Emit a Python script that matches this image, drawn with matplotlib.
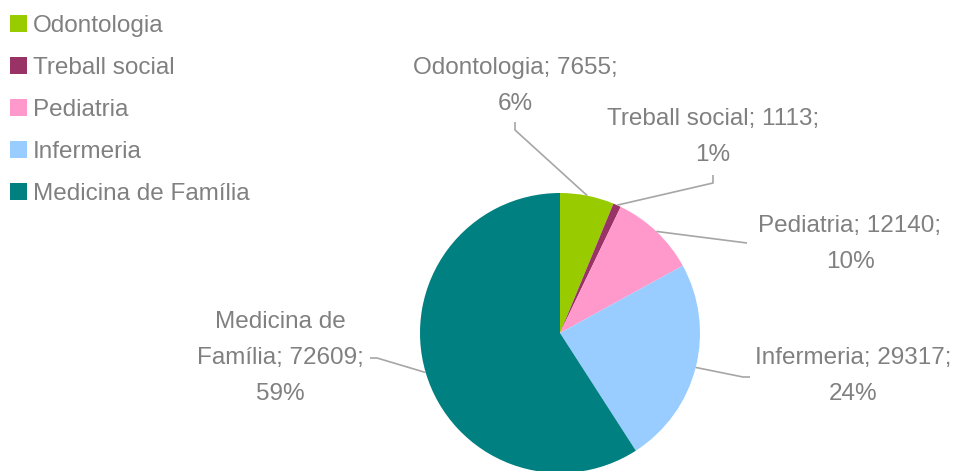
import numpy as np
import matplotlib.pyplot as plt

labels = ['Odontologia', 'Treball social', 'Pediatria', 'Infermeria', 'Medicina de Família']
values = [7655, 1113, 12140, 29317, 72609]
colors = ['#99cc00', '#993366', '#ff99cc', '#99ccff', '#008080']

plt.rcParams['font.family'] = ['Liberation Sans', 'DejaVu Sans']
W, H = 957, 471
fig = plt.figure(figsize=(W / 100, H / 100), dpi=100)
ax = fig.add_axes([0, 0, 1, 1])

cx, cy, r = 560, H - 333, 140
wedges, _ = ax.pie(values, colors=colors, startangle=90, counterclock=False,
                   center=(cx, cy), radius=r, wedgeprops=dict(linewidth=0))
ax.set_xlim(0, W)
ax.set_ylim(0, H)
ax.axis('off')

total = sum(values)
txt = '#808080'
fs = 17.5

# label text centre (px, from top), leader start, elbow
layout = {
    'Odontologia': ((515, 86), [(515, 122), (515, 130)]),
    'Treball social': ((713, 137), [(713, 175), (713, 183)]),
    'Pediatria': ((850, 244), [(747, 243)]),
    'Infermeria': ((853, 376), [(750, 377), (743, 377)]),
    'Medicina de Família': ((280, 358), [(370, 358), (377, 358)]),
}

for w, name, v in zip(wedges, labels, values):
    pct = round(100 * v / total)
    if name == 'Medicina de Família':
        s = 'Medicina de\nFamília; %d;\n%d%%' % (v, pct)
    else:
        s = '%s; %d;\n%d%%' % (name, v, pct)
    (tx, ty), pts = layout[name]
    ax.text(tx, H - ty, s, ha='center', va='center', fontsize=fs, color=txt,
            linespacing=1.8)
    a = np.deg2rad((w.theta1 + w.theta2) / 2)
    ex, ey = cx + r * np.cos(a), cy + r * np.sin(a)
    xs = [p[0] for p in pts] + [ex]
    ys = [H - p[1] for p in pts] + [ey]
    ax.plot(xs, ys, color='#a6a6a6', lw=1.2, solid_capstyle='butt')

leg = ax.legend(wedges, labels, loc='upper left', bbox_to_anchor=(10 / W, 1 - 15 / H),
                frameon=False, fontsize=fs, handlelength=0.7, handleheight=0.7,
                handletextpad=0.25, labelspacing=0.82, borderpad=0, borderaxespad=0)
for t in leg.get_texts():
    t.set_color(txt)

fig.savefig('out.png', dpi=100)
